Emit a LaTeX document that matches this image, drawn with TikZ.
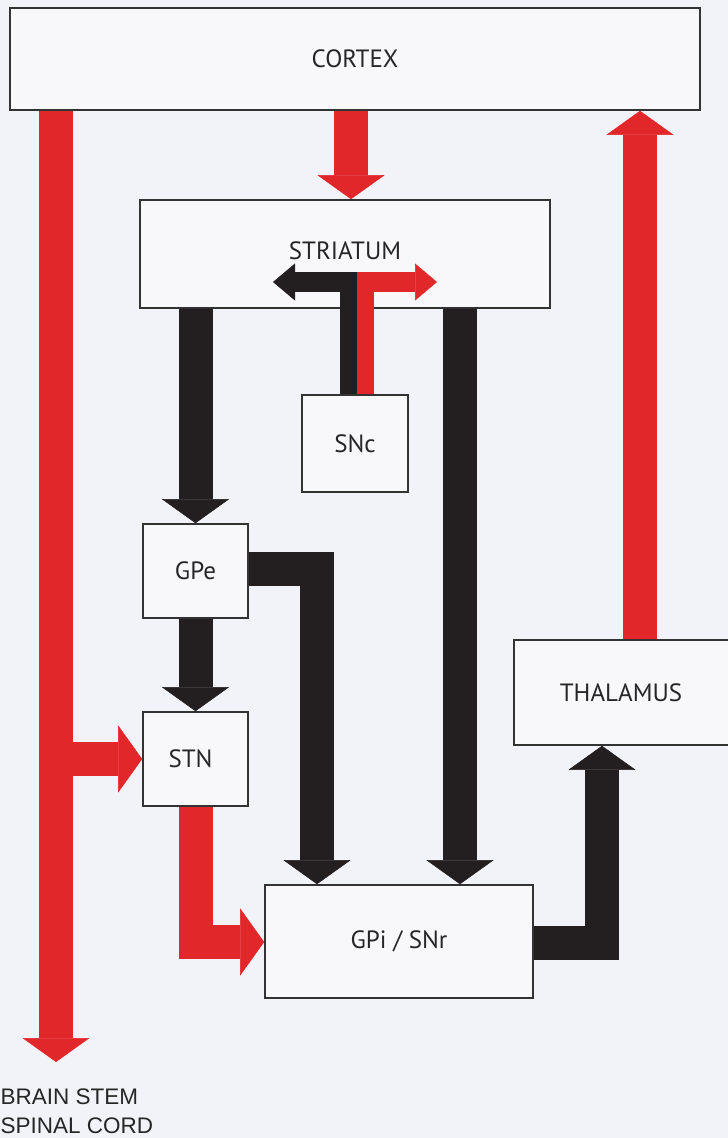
\documentclass[tikz,border=0pt]{standalone}
\usepackage{fontspec}
\setmainfont{PT Sans}
\newfontfamily\legendfont{Liberation Sans}
\usetikzlibrary{arrows.meta,calc}
\definecolor{paper}{HTML}{F2F3F8}
\definecolor{boxfill}{HTML}{F8F8FB}
\definecolor{tractred}{HTML}{E2272B}
\definecolor{tractblack}{HTML}{231F20}
\definecolor{rim}{HTML}{333333}
\tikzset{
  nucleus/.style={draw=rim, line width=1.6pt, fill=boxfill, inner sep=0pt,
    font=\fontsize{25}{27}\selectfont, text=black!85},
  tract/.style={line width=34pt, -{Triangle[width=67pt,length=24pt,line width=0.5pt]}},
  minor/.style={line width=20pt, -{Triangle[width=37pt,length=22pt,line width=0.5pt]}},
  excit/.style={draw=tractred},
  inhib/.style={draw=tractblack},
}

\begin{document}
\begin{tikzpicture}[x=1pt, y=-1pt]
  \useasboundingbox (0,0) rectangle (728,1138);
  \fill[paper] (0,0) rectangle (728,1138);
  % nuclei
  \node[nucleus, minimum width=690pt, minimum height=102pt] (cortex) at (355,59) {CORTEX};
  \node[nucleus, minimum width=410pt, minimum height=108pt] (striatum) at (345,254) {\raisebox{6pt}{STRIATUM}};
  \node[nucleus, minimum width=106pt, minimum height=97pt] (snc) at (355,443.5) {SNc};
  \node[nucleus, minimum width=105pt, minimum height=94pt] (gpe) at (195.5,571) {GPe};
  \node[nucleus, minimum width=105pt, minimum height=94pt] (stn) at (195.5,759) {\hspace*{-10pt}STN};
  \node[nucleus, minimum width=218pt, minimum height=105pt] (thalamus) at (623,692.5) {\hspace*{-4pt}THALAMUS};
  \node[nucleus, minimum width=268pt, minimum height=113pt] (gpi) at (399,941.5) {GPi / SNr};
  \coordinate (brainstem) at (56,1062);
  \node[anchor=west, font=\legendfont\fontsize{22.5}{24}\selectfont, text=black!85] (stem) at (-3,1097) {BRAIN STEM};
  \node[anchor=west, font=\legendfont\fontsize{22.5}{24}\selectfont, text=black!85] (cord) at (-3,1126) {SPINAL CORD};
  % excitatory tracts
  \draw[tract,excit] (351,0 |- cortex.south) -- (351,0 |- striatum.north);
  \draw[tract,excit] (56,0 |- cortex.south) -- (brainstem);
  \draw[tract,excit] (56,0 |- stn.west) -- (stn.west);
  \draw[tract,excit] (640,0 |- thalamus.north) -- (640,0 |- cortex.south);
  \draw[tract,excit] (stn.south) |- (gpi.west |- 0,942);
  % inhibitory tracts
  \draw[tract,inhib] (gpe.north |- striatum.south) -- (gpe.north);
  \draw[tract,inhib] (gpe.south) -- (stn.north);
  \draw[tract,inhib] (460,0 |- striatum.south) -- (460,0 |- gpi.north);
  \draw[tract,inhib] (gpe.east |- 0,569) -| (317,0 |- gpi.north);
  \draw[tract,inhib] (gpi.east |- 0,943) -| (602,0 |- thalamus.south);
  % nigrostriatal fork
  \coordinate (fork) at (357,282);
  \draw[inhib, line width=17pt] (348.5,0 |- snc.north) -- (348.5,286);
  \draw[excit, line width=17pt] (365.5,0 |- snc.north) -- (365.5,286);
  \draw[minor,inhib] (fork) -- (273,282);
  \draw[minor,excit] (fork) -- (437,282);
\end{tikzpicture}
\end{document}
